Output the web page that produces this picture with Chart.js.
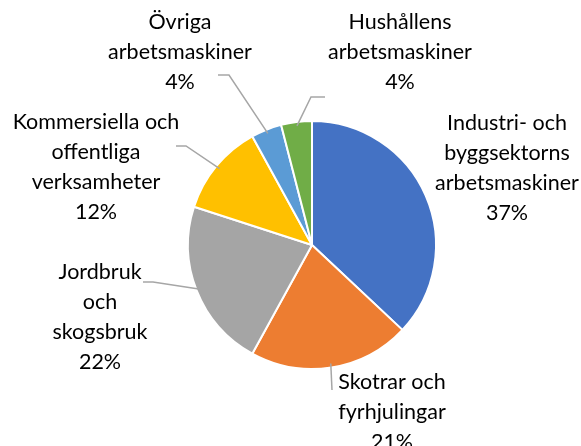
<!DOCTYPE html>
<html>
<head>
<meta charset="utf-8">
<script src="https://cdn.jsdelivr.net/npm/chart.js@4/dist/chart.umd.min.js"></script>
<style>
    html, body { margin: 0; padding: 0; background: #fff; }
    #wrap { width: 581px; height: 446px; position: relative; }
</style>
</head>
<body>
<div id="wrap"><canvas id="pieChart"></canvas></div>
<script>
// ── Data ─────────────────────────────────────────────────────────────
const categories = [
    ['Industri- och', 'byggsektorns', 'arbetsmaskiner'],
    ['Skotrar och', 'fyrhjulingar'],
    ['Jordbruk', 'och', 'skogsbruk'],
    ['Kommersiella och', 'offentliga', 'verksamheter'],
    ['Övriga', 'arbetsmaskiner'],
    ['Hushållens', 'arbetsmaskiner']
];
const shares = [37, 21, 22, 12, 4, 4];
const colors = ['#4472C4', '#ED7D31', '#A5A5A5', '#FFC000', '#5B9BD5', '#70AD47'];

// ── Label layout (text centre x, first line y, leader elbow points) ──
const labelLayout = [
    { x: 507, y: 123, leader: null },
    { x: 392, y: 382, leader: [[332, 390]] },
    { x: 100, y: 272, leader: [[143, 282], [153, 282]] },
    { x: 96,  y: 122, leader: [[176, 146], [186, 146]] },
    { x: 180, y: 22,  leader: [[218, 75], [229, 75]] },
    { x: 400, y: 22,  leader: [[325, 97], [311, 97]] }
];
const LINE_H = 30;
const FONT = '21.5px Lato';

// ── Plugin: outside labels with leader lines ────────────────────────
const outsideLabels = {
    id: 'outsideLabels',
    afterDatasetsDraw(chart) {
        const ctx = chart.ctx;
        const arcs = chart.getDatasetMeta(0).data;
        ctx.save();
        arcs.forEach((arc, i) => {
            const lay = labelLayout[i];
            if (lay.leader) {
                const mid = (arc.startAngle + arc.endAngle) / 2;
                const r = arc.outerRadius - 4;
                const sx = arc.x + Math.cos(mid) * r;
                const sy = arc.y + Math.sin(mid) * r;
                ctx.strokeStyle = '#A6A6A6';
                ctx.lineWidth = 1.5;
                ctx.beginPath();
                ctx.moveTo(sx, sy);
                for (let k = lay.leader.length - 1; k >= 0; k--) {
                    ctx.lineTo(lay.leader[k][0], lay.leader[k][1]);
                }
                ctx.stroke();
            }
            const lines = categories[i].concat([shares[i] + '%']);
            ctx.fillStyle = '#000000';
            ctx.font = FONT;
            ctx.textAlign = 'center';
            ctx.textBaseline = 'middle';
            lines.forEach((t, j) => ctx.fillText(t, lay.x, lay.y + j * LINE_H));
        });
        ctx.restore();
    }
};

// ── Chart ────────────────────────────────────────────────────────────
const ctx = document.getElementById('pieChart').getContext('2d');
new Chart(ctx, {
    type: 'pie',
    data: {
        labels: categories,
        datasets: [{
            data: shares,
            backgroundColor: colors,
            borderColor: '#ffffff',
            borderWidth: 2
        }]
    },
    options: {
        responsive: true,
        maintainAspectRatio: false,
        animation: false,
        layout: { padding: { left: 187, right: 144, top: 120, bottom: 76 } },
        plugins: {
            legend: { display: false },
            tooltip: { enabled: false }
        }
    },
    plugins: [outsideLabels]
});
</script>
</body>
</html>
